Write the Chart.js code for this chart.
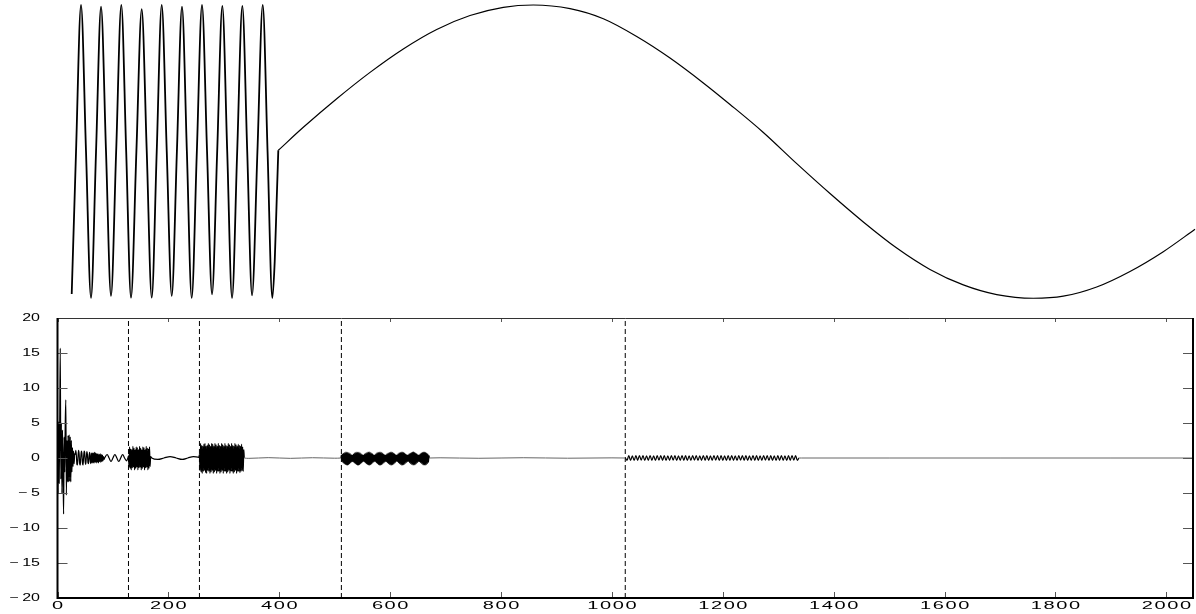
<!DOCTYPE html>
<html>
<head>
<meta charset="utf-8">
<script src="https://cdn.jsdelivr.net/npm/chart.js@4.4.1/dist/chart.umd.min.js"></script>
<style>
  html, body { margin: 0; padding: 0; background: #fff; }
  #wrap { position: relative; width: 1196px; height: 614px; overflow: hidden; }
</style>
</head>
<body>
<div id="wrap">
  <canvas id="botChart" width="1196" height="314" style="position:absolute;left:0;top:300px"></canvas>
  <canvas id="topChart" width="1196" height="305" style="position:absolute;left:0;top:0"></canvas>
</div>
<script>
// ---- top panel: the signal ----
// fast burst, up to the jump
const fastX = [24.7, 32.5, 41.5, 50.5, 59.5, 68.6, 77.6, 86.6, 95.6, 104.9,
  114.2, 123.0, 131.7, 141.4, 151.0, 160.1, 169.1, 178.1, 187.1, 196.2,
  205.2, 214.5, 223.7, 232.5, 241.2, 250.5, 259.8, 268.9, 277.9, 287.2,
  296.5, 305.3, 314.0, 323.3, 332.6, 341.4, 350.1, 359.8, 369.4, 378.1,
  386.7, 391, 394.6, 397.5];
const fastY = [-0.973, 0, 1.0, 0, -1.0, 0, 0.988, 0, -0.986, 0,
  1.0, 0, -0.998, 0, 0.971, 0, -0.998, 0, 1.0, 0,
  -0.986, 0, 0.988, 0, -1.0, 0, 1.0, 0, -0.975, 0,
  0.993, 0, -1.0, 0, 0.993, 0, -0.982, 0, 1.0, 0,
  -1.0, -0.75, -0.33, 0.008];
// slow wave after the jump
const slowX = [397.5, 442.6, 502.9, 563, 623, 683.3, 743.4, 803.5, 857.6, 923.9,
  984, 1044.2, 1104.3, 1164.4, 1212.6, 1272.7, 1333, 1393, 1453.1, 1513.4,
  1573.4, 1633.5, 1693.8, 1759.8, 1813.9, 1874.2, 1934.3, 1994.4, 2051.6];
const slowY = [0.008, 0.165, 0.360, 0.540, 0.700, 0.833, 0.928, 0.984, 1.0, 0.975,
  0.906, 0.785, 0.638, 0.468, 0.321, 0.130, -0.083, -0.287, -0.481, -0.659,
  -0.805, -0.911, -0.977, -1.002, -0.988, -0.925, -0.819, -0.684, -0.531];

// ---- bottom panel: coefficients ----
// samples 0..85
const coarseVals = [4.8, -5.0, 5.2, -3.6, 5.0, 15.7, -3.0, 5.0, -5.0, 4.0,
  -1.5, -8.0, 3.0, -2.0, 5.0, 8.3, -5.3, 2.5, -3.4, 3.2,
  -3.4, 3.3, -3.3, 3.0, -3.4, 2.5, -2.0, 1.5, -1.2, 1.0,
  -0.8, 0.6, 0.5, 1.1, 0.4, -0.9, -1.0, 0.2, 1.1, 0.6,
  -0.8, -1.0, 0.1, 1.0, 0.7, -0.7, -1.0, 0.0, 1.0, 0.8,
  -0.6, -0.9, 0.1, 0.9, 0.5, -0.7, -0.8, 0.3, 0.8, -0.2,
  -0.8, 0.7, -0.7, 0.7, -0.7, 0.7, -0.7, 0.8, -0.6, 0.7,
  -0.7, 0.6, -0.6, 0.6, -0.7, 0.5, -0.5, 0.6, -0.6, 0.5,
  -0.5, 0.4, -0.4, 0.2, -0.2, 0.0];
const waveAX = [89.5, 93, 96.5, 100, 103.5, 107, 110.5, 114, 117.5, 121, 124.5, 127];
const waveAY = [0.5, 0, -0.5, 0, 0.5, 0, -0.5, 0, 0.5, 0, -0.4, 0];
// samples 128..168
const block1Vals = [0.3, -1.3, 1.6, -1.5, 1.3, -1.7, 1.2, -1.4, 1.65, -1.3,
  1.4, -1.7, 1.2, -1.5, 1.6, -1.3, 1.5, -1.7, 1.2, -1.4,
  1.65, -1.3, 1.4, -1.7, 1.2, -1.5, 1.6, -1.3, 1.5, -1.7,
  1.2, -1.4, 1.65, -1.3, 1.4, -1.7, 1.3, -1.5, 1.6, -1.2,
  0.2];
const waveBX = [170, 181, 192, 203, 214, 225, 235, 245, 255];
const waveBY = [0, -0.2, 0, 0.2, 0, -0.2, 0, 0.2, 0.1];
// samples 256..337
const block2Vals = [0.5, -1.8, 2.1, -2.0, 1.8, -2.2, 1.7, -1.9, 2.0, -1.8,
  2.1, -2.1, 1.7, -2.2, 1.8, -1.8, 2.1, -1.9, 1.9, -2.2,
  1.7, -2.0, 2.1, -1.8, 2.0, -2.2, 1.7, -2.0, 2.1, -1.8,
  1.9, -2.2, 1.7, -1.9, 2.1, -1.9, 1.8, -2.2, 1.7, -2.0,
  2.1, -1.8, 1.9, -2.2, 1.7, -1.9, 2.1, -1.9, 1.8, -2.2,
  1.7, -2.0, 2.1, -1.8, 1.9, -2.2, 1.7, -1.9, 2.1, -1.9,
  1.8, -2.2, 1.7, -2.0, 2.1, -1.8, 1.9, -2.2, 1.7, -1.9,
  2.0, -1.9, 1.8, -2.1, 1.7, -1.9, 2.0, -1.8, 1.6, -1.9,
  1.2, 0.0];
const flatCX = [345, 380, 420, 460, 500, 511];
const flatCY = [-0.05, 0.05, -0.05, 0.04, -0.03, 0];
// samples 512..671 (eight beads)
const scallopVals = [
  0.40, -0.50, 0.55, -0.65, 0.68, -0.80, 0.78, -0.93, 0.85, -1.00, 0.86, -1.02, 0.80, -0.95, 0.70, -0.82, 0.58, -0.66, 0.46, -0.52,
  0.42, -0.52, 0.56, -0.66, 0.69, -0.81, 0.79, -0.92, 0.86, -1.01, 0.85, -1.02, 0.79, -0.94, 0.71, -0.81, 0.57, -0.67, 0.45, -0.50,
  0.41, -0.51, 0.55, -0.65, 0.68, -0.82, 0.78, -0.93, 0.85, -1.00, 0.87, -1.03, 0.80, -0.95, 0.70, -0.82, 0.58, -0.65, 0.46, -0.52,
  0.42, -0.50, 0.56, -0.66, 0.69, -0.80, 0.79, -0.94, 0.86, -1.01, 0.86, -1.02, 0.79, -0.95, 0.71, -0.81, 0.57, -0.66, 0.45, -0.51,
  0.41, -0.52, 0.55, -0.65, 0.68, -0.81, 0.78, -0.93, 0.85, -1.00, 0.86, -1.03, 0.80, -0.94, 0.70, -0.82, 0.58, -0.67, 0.46, -0.50,
  0.42, -0.51, 0.56, -0.66, 0.69, -0.82, 0.79, -0.92, 0.86, -1.01, 0.85, -1.02, 0.79, -0.95, 0.71, -0.81, 0.57, -0.65, 0.45, -0.52,
  0.41, -0.50, 0.55, -0.65, 0.68, -0.80, 0.78, -0.93, 0.85, -1.00, 0.87, -1.02, 0.80, -0.94, 0.70, -0.82, 0.58, -0.66, 0.46, -0.51,
  0.42, -0.52, 0.56, -0.66, 0.69, -0.81, 0.79, -0.94, 0.86, -1.01, 0.86, -1.03, 0.79, -0.95, 0.71, -0.80, 0.56, -0.60, 0.35, 0.00];
const flatDX = [690, 760, 840, 920, 1000, 1023];
const flatDY = [0.03, -0.04, 0.04, -0.03, 0.02, 0];
// samples 1024..1338, peaks and troughs of the fine ripple
const zigVals = [0.0, -0.33, 0.33, -0.35, 0.32, -0.34, 0.33, -0.33, 0.34, -0.32,
  0.33, -0.34, 0.32, -0.33, 0.34, -0.33, 0.32, -0.35, 0.33, -0.32,
  0.34, -0.33, 0.33, -0.34, 0.32, -0.33, 0.34, -0.32, 0.33, -0.34,
  0.32, -0.33, 0.34, -0.33, 0.33, -0.35, 0.32, -0.33, 0.34, -0.32,
  0.33, -0.34, 0.32, -0.33, 0.34, -0.33, 0.33, -0.34, 0.32, -0.33,
  0.34, -0.32, 0.33, -0.34, 0.33, -0.33, 0.32, -0.35, 0.33, -0.33,
  0.34, -0.33, 0.32, -0.34, 0.33, -0.32, 0.34, -0.33, 0.33, -0.34,
  0.32, -0.33, 0.34, -0.33, 0.33, -0.34, 0.32, -0.33, 0.34, -0.32,
  0.33, -0.34, 0.33, -0.33, 0.32, -0.34, 0.33, -0.33, 0.34, -0.33,
  0.32, -0.34, 0.33, -0.33, 0.34, -0.32, 0.33, -0.33, 0.0];
const flatEX = [1342, 1500, 1700, 1900, 2048];
const flatEY = [0, 0, 0, 0, 0];

const dividers = [128, 256, 512, 1024];
const xTicks = [0, 200, 400, 600, 800, 1000, 1200, 1400, 1600, 1800, 2000];
const yTicks = [-20, -15, -10, -5, 0, 5, 10, 15, 20];

function run(x0, step, vals) {
  return vals.map((v, i) => ({x: x0 + i * step, y: v}));
}
function pairs(xs, ys) {
  return xs.map((x, i) => ({x: x, y: ys[i]}));
}

// top chart
new Chart(document.getElementById('topChart'), {
  type: 'line',
  data: {
    datasets: [{
      data: pairs(fastX, fastY),
      borderColor: '#000',
      borderWidth: 1.8,
      pointRadius: 0,
      cubicInterpolationMode: 'monotone'
    }, {
      data: pairs(slowX, slowY),
      borderColor: '#000',
      borderWidth: 1.2,
      pointRadius: 0,
      cubicInterpolationMode: 'monotone'
    }]
  },
  options: {
    responsive: false,
    devicePixelRatio: 1,
    animation: false,
    layout: { padding: 0 },
    plugins: { legend: { display: false }, tooltip: { enabled: false } },
    scales: {
      x: { type: 'linear', display: false, min: -104.7, max: 2053.4 },
      y: { display: false, min: -1.048, max: 1.034 }
    }
  }
});

// frame, inside ticks and wide tick labels, like the original plot
const frame = {
  id: 'frame',
  afterDraw(chart) {
    const ctx = chart.ctx;
    const a = chart.chartArea;
    const xs = chart.scales.x, ys = chart.scales.y;
    ctx.save();
    ctx.strokeStyle = '#555';
    ctx.lineWidth = 1;
    ctx.beginPath();
    xTicks.forEach(v => {
      const px = Math.round(xs.getPixelForValue(v)) + 0.5;
      ctx.moveTo(px, a.bottom); ctx.lineTo(px, a.bottom - 6);
      ctx.moveTo(px, a.top); ctx.lineTo(px, a.top + 4);
    });
    yTicks.forEach(v => {
      const py = Math.round(ys.getPixelForValue(v)) + 0.5;
      ctx.moveTo(a.left, py); ctx.lineTo(a.left + 10, py);
      ctx.moveTo(a.right, py); ctx.lineTo(a.right - 10, py);
    });
    ctx.stroke();
    ctx.strokeStyle = '#333';
    ctx.beginPath();
    ctx.moveTo(a.left, a.top + 0.5); ctx.lineTo(a.right, a.top + 0.5);
    ctx.stroke();
    ctx.strokeStyle = '#000';
    ctx.lineWidth = 2;
    ctx.beginPath();
    ctx.moveTo(a.left, a.top); ctx.lineTo(a.left, a.bottom);
    ctx.lineTo(a.right, a.bottom); ctx.lineTo(a.right, a.top);
    ctx.stroke();

    ctx.fillStyle = '#000';
    ctx.font = '10px "Liberation Sans", Arial, sans-serif';
    ctx.textBaseline = 'middle';
    ctx.textAlign = 'center';
    xTicks.forEach(v => {
      ctx.save();
      ctx.translate(xs.getPixelForValue(v), a.bottom + 8);
      ctx.scale(2.0, 1);
      ctx.letterSpacing = '0.8px';
      ctx.fillText(String(v), 0.4, 0);
      ctx.restore();
    });
    ctx.textAlign = 'right';
    yTicks.forEach(v => {
      const label = v < 0 ? '\u2212\u2009' + Math.abs(v) : String(v);
      ctx.save();
      ctx.translate(40, ys.getPixelForValue(v));
      ctx.scale(1.6, 1);
      ctx.fillText(label, 0, 0);
      ctx.restore();
    });
    ctx.restore();
  }
};

const coefData = [].concat(
  run(0, 1, coarseVals), pairs(waveAX, waveAY),
  run(128, 1, block1Vals), pairs(waveBX, waveBY),
  run(256, 1, block2Vals), pairs(flatCX, flatCY),
  run(512, 1, scallopVals), pairs(flatDX, flatDY),
  run(1024, 3.2, zigVals), pairs(flatEX, flatEY)
);

const divSets = dividers.map(d => ({
  data: [{x: d, y: -20}, {x: d, y: 20}],
  borderColor: '#000',
  borderWidth: 1,
  borderDash: [5, 3],
  pointRadius: 0
}));

// near-flat stretches come out as a thin grey trace in the original
const quiet = c => Math.abs(c.p0.parsed.y) < 0.12 && Math.abs(c.p1.parsed.y) < 0.12;

new Chart(document.getElementById('botChart'), {
  type: 'line',
  data: {
    datasets: [{
      data: coefData,
      borderColor: '#000',
      borderWidth: 1.2,
      pointRadius: 0,
      cubicInterpolationMode: 'monotone',
      segment: {
        borderColor: c => quiet(c) ? '#666' : undefined,
        borderWidth: c => quiet(c) ? 1 : undefined
      }
    }].concat(divSets)
  },
  options: {
    responsive: false,
    devicePixelRatio: 1,
    animation: false,
    layout: { padding: { left: 57.5, right: 3, top: 18, bottom: 16 } },
    plugins: { legend: { display: false }, tooltip: { enabled: false } },
    scales: {
      x: { type: 'linear', min: 0, max: 2048, display: false },
      y: { min: -20, max: 20, display: false }
    }
  },
  plugins: [frame]
});
</script>
</body>
</html>
